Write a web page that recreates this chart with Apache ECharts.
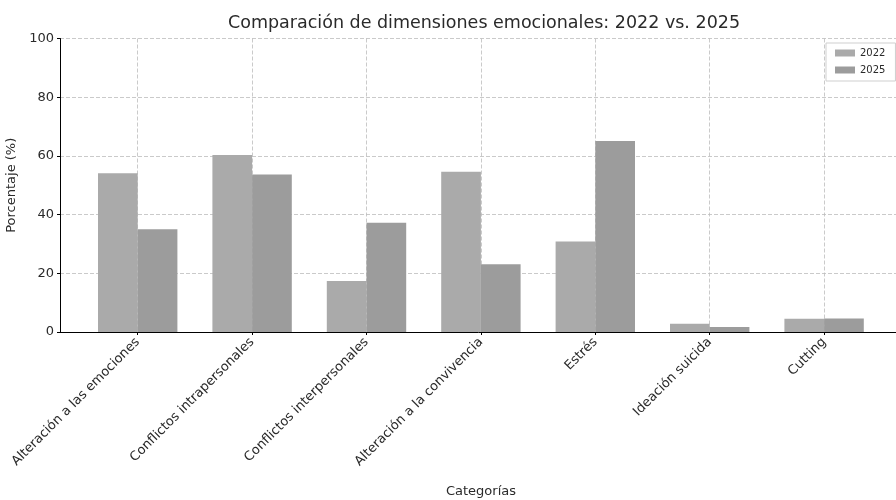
<!DOCTYPE html>
<html>
<head>
<meta charset="utf-8">
<script src="https://cdn.jsdelivr.net/npm/echarts@6/dist/echarts.min.js"></script>
<style>
html,body{margin:0;padding:0;background:#fff;}
#chart{width:896px;height:500px;}
</style>
</head>
<body>
<div id="chart"></div>
<script>
const categories = ["Alteración a las emociones","Conflictos intrapersonales","Conflictos interpersonales","Alteración a la convivencia","Estrés","Ideación suicida","Cutting"];
const values2022 = [54.1, 60.3, 17.4, 54.6, 30.8, 2.8, 4.5];
const values2025 = [35.0, 53.7, 37.2, 23.1, 65.1, 1.7, 4.6];
const yTicks = [0, 20, 40, 60, 80, 100];

const FONT = "DejaVu Sans";
const chart = echarts.init(document.getElementById('chart'), null, {renderer:'canvas'});
const dashed = {color:'#bdbdbd', width:0.8, type:[4,2]};
chart.setOption({
  animation:false,
  backgroundColor:'#fff',
  textStyle:{fontFamily:FONT},
  title:{text:'Comparación de dimensiones emocionales: 2022 vs. 2025', left:479, textAlign:'center', top:9,
    textStyle:{fontFamily:FONT, fontSize:17.5, fontWeight:'normal', color:'#2a2a2a'}},
  legend:{data:['2022','2025'], orient:'vertical', left:826, top:43, itemWidth:20, itemHeight:7, itemGap:7,
    padding:[5,10,6,9], borderColor:'#cfcfcf', borderWidth:1, backgroundColor:'#fff',
    textStyle:{fontFamily:FONT, fontSize:10, color:'#2a2a2a'}, icon:'rect'},
  grid:[
    {left:60, width:842, top:38.5, bottom:168, outerBoundsMode:'none', containLabel:false},
    {left:80.5, width:800.8, top:38.5, bottom:168, outerBoundsMode:'none', containLabel:false}
  ],
  xAxis:[
    {gridIndex:0, type:'value', min:0, max:1, axisLabel:{show:false}, axisTick:{show:false}, splitLine:{show:false},
     axisLine:{onZero:false, lineStyle:{color:'#000', width:1}},
     name:'Categorías', nameLocation:'middle', nameGap:153, nameTextStyle:{fontFamily:FONT, fontSize:13, color:'#2a2a2a'}},
    {gridIndex:1, type:'category', data:categories, axisLine:{show:false},
     axisTick:{show:true, alignWithLabel:true, length:3, lineStyle:{color:'#000'}},
     splitLine:{show:true, alignWithLabel:true, lineStyle:dashed},
     axisLabel:{rotate:45, interval:0, margin:8, fontFamily:FONT, fontSize:13, color:'#2a2a2a'}}
  ],
  yAxis:[
    {gridIndex:0, type:'value', min:0, max:100, interval:20,
     axisLine:{show:true, lineStyle:{color:'#000', width:1}},
     axisTick:{show:true, length:3, lineStyle:{color:'#000'}},
     axisLabel:{fontFamily:FONT, fontSize:13, color:'#2a2a2a', margin:6,
       formatter:v => yTicks.includes(v) ? String(v) : ''},
     splitLine:{show:true, lineStyle:dashed},
     name:'Porcentaje (%)', nameLocation:'middle', nameGap:40, nameTextStyle:{fontFamily:FONT, fontSize:13, color:'#2a2a2a'}},
    {gridIndex:1, type:'value', min:0, max:100, show:false}
  ],
  series:[
    {name:'2022', type:'bar', xAxisIndex:1, yAxisIndex:1, data:values2022, barWidth:39.7, barGap:'0%',
     itemStyle:{color:'#aaaaaa'}, z:3},
    {name:'2025', type:'bar', xAxisIndex:1, yAxisIndex:1, data:values2025, barWidth:39.7, barGap:'0%',
     itemStyle:{color:'#9c9c9c'}, z:3}
  ]
});
</script>
</body>
</html>
